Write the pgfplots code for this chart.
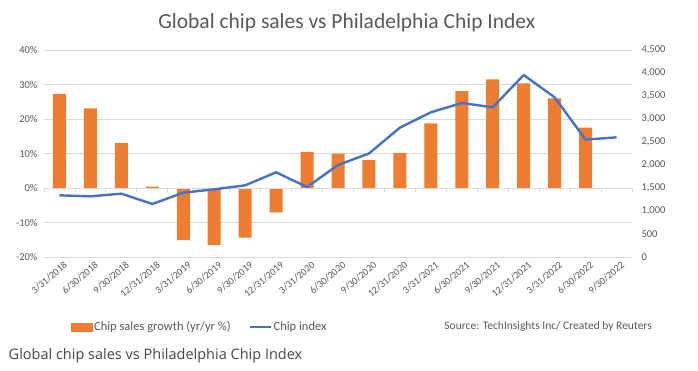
\documentclass[border=0pt]{standalone}
\usepackage{pgfplots}
\pgfplotsset{compat=1.18}
\usepackage{pgfplotstable}
\usepackage{fontspec}
\setmainfont{Carlito}
\newfontfamily\capfont{Open Sans}
\definecolor{barc}{HTML}{ED7D31}
\definecolor{linec}{HTML}{4472C4}
\definecolor{txt}{HTML}{595959}
\definecolor{grd}{HTML}{D9D9D9}

\pgfplotstableread{
x growth index
0  27.2 1341
1  23.1 1319
2  13.1 1377
3  0.4  1152
4  -15.1 1399
5  -16.5 1471
6  -14.4 1558
7  -7.1 1841
8  10.4 1522
9  10.0 2000
10 8.1  2250
11 10.2 2812
12 18.7 3145
13 28.1 3348
14 31.5 3254
15 30.3 3956
16 26.0 3471
17 17.5 2551
18 nan  2601
}\datatable

\begin{document}
\begin{tikzpicture}[x=1pt,y=1pt]
\path[use as bounding box] (-44,-114) rectangle (654,257);
\begin{axis}[
  at={(0,0)}, anchor=south west,
  scale only axis, width=588pt, height=207pt,
  xmin=-0.5, xmax=18.5, ymin=-20, ymax=40,
  ytick={-20,-10,0,10,20,30,40},
  yticklabel={\pgfmathprintnumber{\tick}\%},
  /pgf/number format/assume math mode=true,
  xtick={0,...,18},
  xticklabels={3/31/2018,6/30/2018,9/30/2018,12/31/2018,3/31/2019,6/30/2019,9/30/2019,12/31/2019,3/31/2020,6/30/2020,9/30/2020,12/31/2020,3/31/2021,6/30/2021,9/30/2021,12/31/2021,3/31/2022,6/30/2022,9/30/2022},
  x tick label style={rotate=40, anchor=north east, font=\fontsize{10}{11}\selectfont, text=txt, xshift=4pt, yshift=-2pt},
  y tick label style={font=\fontsize{10.5}{11}\selectfont, text=txt, xshift=-3pt},
  ymajorgrids, grid style={grd, line width=0.8pt},
  axis line style={draw=none}, major tick style={draw=none},
  major tick length=0pt,
  clip=false,
]
\addplot[ybar, bar width=13pt, fill=barc, draw=none] table[x=x, y=growth] {\datatable};
\draw[grd, line width=0.8pt] (axis cs:-0.5,0) -- (axis cs:18.5,0);
\pgfplotsinvokeforeach{-0.5,0.5,1.5,2.5,3.5,4.5,5.5,6.5,7.5,8.5,9.5,10.5,11.5,12.5,13.5,14.5,15.5,16.5,17.5,18.5}{\draw[grd, line width=0.8pt] (axis cs:#1,0) -- ++(0pt,-4pt);}
\node[font=\fontsize{21.5}{24}\selectfont, text=txt] at (rel axis cs:0.515,1.13) {Global chip sales vs Philadelphia Chip Index};
\node[font=\capfont\fontsize{14.5}{16}\selectfont, text=black!72, anchor=west] at (rel axis cs:-0.066,-0.475) {Global chip sales vs Philadelphia Chip Index};
\node[font=\fontsize{11.5}{12}\selectfont, text=txt, anchor=west] at (rel axis cs:0.675,-0.338) {Source: TechInsights Inc/ Created by Reuters};
\end{axis}
\begin{axis}[
  at={(0,0)}, anchor=south west,
  scale only axis, width=588pt, height=207pt,
  xmin=-0.5, xmax=18.5, ymin=0, ymax=4500,
  ytick={0,500,...,4500},
  axis x line=none, axis y line*=right,
  y axis line style={draw=none}, major tick style={draw=none},
  /pgf/number format/1000 sep={,},
  /pgf/number format/assume math mode=true,
  y tick label style={font=\fontsize{10.5}{11}\selectfont, text=txt, xshift=6pt},
  legend columns=2,
  legend style={draw=none, fill=none, at={(0.04,-0.338)}, anchor=west,
    font=\fontsize{12.5}{14}\selectfont, text=txt,
    /tikz/every even column/.append style={column sep=16pt}},
  legend cell align=left,
  clip=false,
]
\addlegendimage{legend image code/.code={\fill[barc] (0pt,-4pt) rectangle (21pt,4pt);}}
\addlegendentry{Chip sales growth (yr/yr \%)}
\addplot[linec, line width=2.4pt, line join=round, legend image code/.code={\draw[linec, line width=2pt] (0pt,0pt) -- (21pt,0pt);}] table[x=x, y=index] {\datatable};
\addlegendentry{Chip index}
\end{axis}
\end{tikzpicture}
\end{document}
